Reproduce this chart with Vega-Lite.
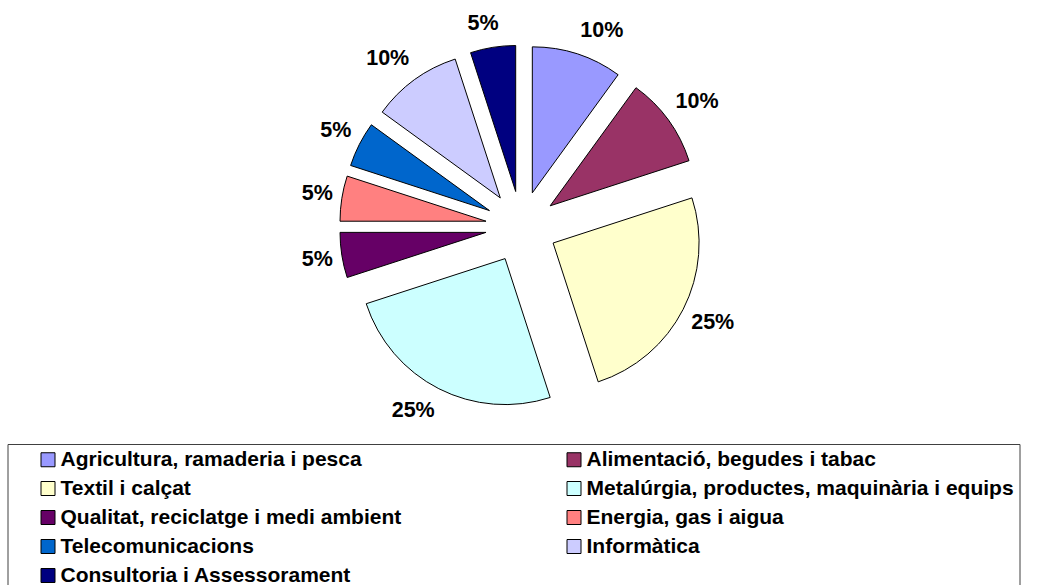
{
  "$schema": "https://vega.github.io/schema/vega-lite/v6.json",
  "width": 1049,
  "height": 585,
  "padding": 0,
  "autosize": {"type": "none"},
  "background": "white",
  "config": {"view": {"stroke": null}},
  "data": {
    "values": [
      {"sector": "Agricultura, ramaderia i pesca", "pct": 10},
      {"sector": "Alimentació, begudes i tabac", "pct": 10},
      {"sector": "Textil i calçat", "pct": 25},
      {"sector": "Metalúrgia, productes, maquinària i equips", "pct": 25},
      {"sector": "Qualitat, reciclatge i medi ambient", "pct": 5},
      {"sector": "Energia, gas i aigua", "pct": 5},
      {"sector": "Telecomunicacions", "pct": 5},
      {"sector": "Informàtica", "pct": 10},
      {"sector": "Consultoria i Assessorament", "pct": 5}
    ]
  },
  "transform": [
    {"window": [{"op": "row_number", "as": "idx"}]},
    {"stack": "pct", "groupby": [], "sort": [{"field": "idx"}], "as": ["v0", "v1"]},
    {"calculate": "(datum.v0 + datum.v1) * PI / 100", "as": "m"},
    {"calculate": "sin(datum.m)", "as": "ex"},
    {"calculate": "cos(datum.m)", "as": "ey"},
    {"calculate": "datum.pct + '%'", "as": "label"},
    {"calculate": "((length(datum.label) - 1) * 0.556 + 0.889) * 21.5 / 2", "as": "hw"},
    {"calculate": "datum.ex + (155 * datum.ex + datum.hw * clamp(3.5 * datum.ex, -1, 1)) / 35.7", "as": "lx"},
    {"calculate": "datum.ey + (155 * datum.ey + 14 * clamp(1.5 * datum.ey, -1, 1)) / 35.7", "as": "ly"}
  ],
  "layer": [
    {
      "mark": {"type": "arc", "radius": 146, "stroke": "black", "strokeWidth": 1},
      "encoding": {
        "theta": {"field": "v0", "type": "quantitative", "stack": null, "scale": {"domain": [0, 100]}},
        "theta2": {"field": "v1"},
        "x": {"field": "ex", "type": "quantitative", "axis": null, "scale": {"domain": [-14.602, 14.782], "nice": false, "zero": false}},
        "y": {"field": "ey", "type": "quantitative", "axis": null, "scale": {"domain": [-10.034, 6.353], "nice": false, "zero": false}},
        "color": {
          "field": "sector",
          "type": "nominal",
          "sort": null,
          "scale": {
            "domain": [
              "Agricultura, ramaderia i pesca",
              "Alimentació, begudes i tabac",
              "Textil i calçat",
              "Metalúrgia, productes, maquinària i equips",
              "Qualitat, reciclatge i medi ambient",
              "Energia, gas i aigua",
              "Telecomunicacions",
              "Informàtica",
              "Consultoria i Assessorament"
            ],
            "range": ["#9999FF", "#993366", "#FFFFCC", "#CCFFFF", "#660066", "#FF8080", "#0066CC", "#CCCCFF", "#000080"]
          },
          "legend": {
            "orient": "none",
            "legendX": 7.5,
            "legendY": 444,
            "direction": "horizontal",
            "columns": 2,
            "title": null,
            "symbolType": "square",
            "symbolSize": 196,
            "symbolStrokeColor": "black",
            "symbolStrokeWidth": 1,
            "symbolOpacity": 1,
            "symbolOffset": 25,
            "labelFont": "Liberation Sans",
            "labelFontWeight": "bold",
            "labelFontSize": 21,
            "labelColor": "black",
            "labelOffset": 2,
            "labelLimit": 700,
            "rowPadding": 7,
            "columnPadding": 137,
            "strokeColor": "#404040",
            "padding": 5
          }
        }
      }
    },
    {
      "mark": {"type": "text", "font": "Liberation Sans", "fontWeight": "bold", "fontSize": 21.5, "color": "black", "baseline": "middle", "align": "center"},
      "encoding": {
        "x": {"field": "lx", "type": "quantitative", "axis": null, "scale": {"domain": [-14.602, 14.782], "nice": false, "zero": false}},
        "y": {"field": "ly", "type": "quantitative", "axis": null, "scale": {"domain": [-10.034, 6.353], "nice": false, "zero": false}},
        "text": {"field": "label"}
      }
    }
  ]
}
